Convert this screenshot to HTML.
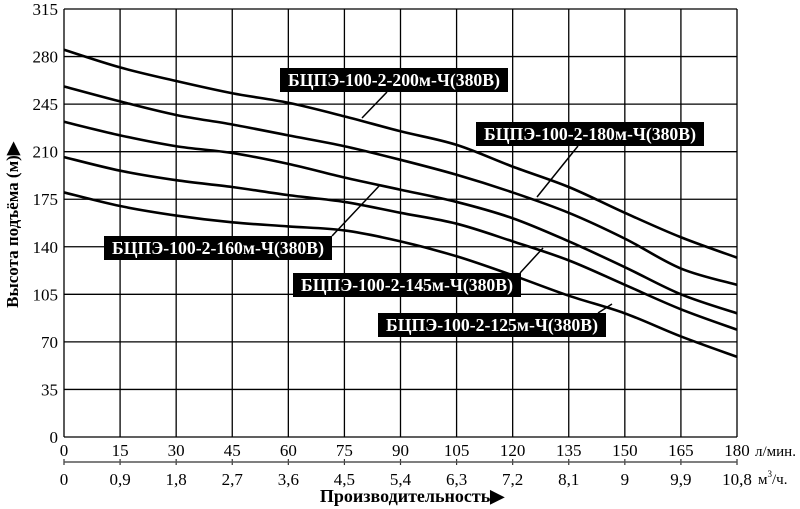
<!DOCTYPE html>
<html><head><meta charset="utf-8">
<style>
html,body{margin:0;padding:0;background:#fff;}
svg{display:block;font-family:"Liberation Serif",serif;}
</style></head>
<body>
<svg id="chart" width="800" height="509" viewBox="0 0 800 509" xmlns="http://www.w3.org/2000/svg">
<g id="grid"></g>
<g id="curves"></g>
<g id="labels"></g>
<g id="axes"></g>
<text transform="translate(18,225) rotate(-90)" text-anchor="middle" font-size="17" font-weight="bold">Высота подъёма (м)▶</text>
<text x="412" y="502" text-anchor="middle" font-size="18" font-weight="bold">Производительность▶</text>
<text x="755" y="456" font-size="15">л/мин.</text>
<text x="758" y="484" font-size="15">м<tspan font-size="9" dy="-7">3</tspan><tspan dy="7">/ч.</tspan></text>
</svg>
<script>
const flowTicks=[0,15,30,45,60,75,90,105,120,135,150,165,180];
const flowM3Labels=["0","0,9","1,8","2,7","3,6","4,5","5,4","6,3","7,2","8,1","9","9,9","10,8"];
const headTicks=[0,35,70,105,140,175,210,245,280,315];
const Q=[0,15,30,45,60,75,90,105,120,135,150,165,180];
const H200=[285,272,262,253,246,236,225,215,199,184,165,147,132];
const H180=[258,247,237,230,222,214,204,193,180,165,146,124,112];
const H160=[232,222,214,209,201,191,182,173,161,144,125,105,91];
const H145=[206,196,189,184,178,173,165,157,144,130,112,94,79];
const H125=[180,170,163,158,155,152,144,133,119,104,91,74,59];
const seriesNames=["БЦПЭ-100-2-200м-Ч(380В)","БЦПЭ-100-2-180м-Ч(380В)","БЦПЭ-100-2-160м-Ч(380В)","БЦПЭ-100-2-145м-Ч(380В)","БЦПЭ-100-2-125м-Ч(380В)"];
const NS="http://www.w3.org/2000/svg";
const X0=64,X1=737,Y0=437,Y1=9;
const xs=q=>X0+(q-0)/180*(X1-X0);
const ys=h=>Y0-(h/315)*(Y0-Y1);
function mk(tag,attrs,parent){const e=document.createElementNS(NS,tag);for(const k in attrs)e.setAttribute(k,attrs[k]);parent.appendChild(e);return e;}
const grid=document.getElementById('grid'),axes=document.getElementById('axes'),curves=document.getElementById('curves'),labels=document.getElementById('labels');
flowTicks.forEach((t,i)=>{
 const l=mk('line',{x1:xs(t),x2:xs(t),y1:Y1,y2:Y0,stroke:'#000','stroke-width':1.3},grid);
 
 
 const tx=mk('text',{x:xs(t),y:456,'text-anchor':'middle','font-size':17},axes);tx.textContent=t;
 
 
 const tk=mk('line',{x1:xs(t),x2:xs(t),y1:459,y2:465,stroke:'#333','stroke-width':1.2},axes);
 
 
 const t2=mk('text',{x:xs(t),y:485,'text-anchor':'middle','font-size':17},axes);t2.textContent=flowM3Labels[i];
 
 
});
const al=mk('line',{x1:X0,x2:X1,y1:462,y2:462,stroke:'#555','stroke-width':1.5},axes);


headTicks.forEach(t=>{
 const l=mk('line',{x1:X0,x2:X1,y1:ys(t),y2:ys(t),stroke:'#000','stroke-width':1.3},grid);
 
 
 const tx=mk('text',{x:58,y:ys(t)+6,'text-anchor':'end','font-size':17},axes);tx.textContent=t;
 
 
});
[H200,H180,H160,H145,H125].forEach((H,si)=>{
 let d='M'+xs(Q[0])+','+ys(H[0]);
 for(let i=1;i<Q.length;i++){
  const p0=[xs(Q[i-1]),ys(H[i-1])],p1=[xs(Q[i]),ys(H[i])];
  const pm=i>1?[xs(Q[i-2]),ys(H[i-2])]:p0, pn=i<Q.length-1?[xs(Q[i+1]),ys(H[i+1])]:p1;
  const c1=[p0[0]+(p1[0]-pm[0])/6,p0[1]+(p1[1]-pm[1])/6],c2=[p1[0]-(pn[0]-p0[0])/6,p1[1]-(pn[1]-p0[1])/6];
  d+=' C'+c1+' '+c2+' '+p1;
 }
 const p=mk('path',{d:d,fill:'none',stroke:'#000','stroke-width':2.6},curves);
 
 
});
const boxes=[[280,68,[387,92,362,118]],[476,122,[578,146,537,197]],[104,236,[332,236,380,185]],[293,273,[520,273,543,248]],[378,313,[598,313,612,304]]];
boxes.forEach((b,i)=>{
 if(b[2]){const ln=mk('line',{x1:b[2][0],y1:b[2][1],x2:b[2][2],y2:b[2][3],stroke:'#000','stroke-width':1.5},labels);
 
 }
 const r=mk('rect',{x:b[0],y:b[1],width:228,height:24,fill:'#000'},labels);
 
 
 const t=mk('text',{x:b[0]+114,y:b[1]+18,'text-anchor':'middle','font-size':17.5,'font-weight':'bold',fill:'#fff',textLength:212,lengthAdjust:'spacingAndGlyphs'},labels);
 t.textContent=seriesNames[i];
 
 
});
</script>
</body></html>
